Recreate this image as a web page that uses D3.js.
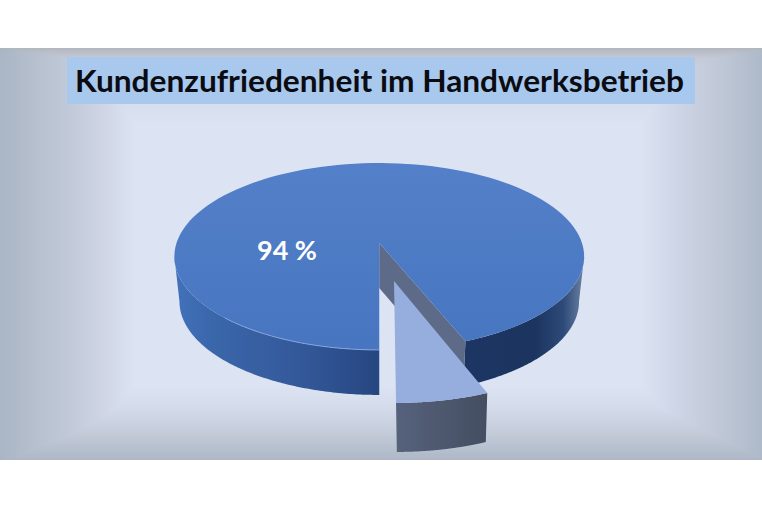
<!DOCTYPE html>
<html>
<head>
<meta charset="utf-8">
<script src="https://cdn.jsdelivr.net/npm/d3@7"></script>
<style>
  html, body { margin: 0; padding: 0; background: #fff; }
  svg { display: block; }
</style>
</head>
<body>
<svg id="chart"></svg>
<script>
const chartTitle = "Kundenzufriedenheit im Handwerksbetrieb";
const categories = ["zufrieden", "nicht zufrieden"];
const shares = [94, 6];
const shareLabels = ["94 %"];

const width = 762, height = 508;

const svg = d3.select("#chart").attr("width", width).attr("height", height);
const defs = svg.append("defs");

function gradient(id, stops, x1, y1, x2, y2) {
  const g = defs.append("linearGradient").attr("id", id)
    .attr("gradientUnits", "userSpaceOnUse")
    .attr("x1", x1).attr("y1", y1).attr("x2", x2).attr("y2", y2);
  stops.forEach(s => g.append("stop").attr("offset", s[0]).attr("stop-color", s[1]));
}

// background: pale centre, darker towards the edges, bands blended with darken so corners stay soft
const top0 = 48, bot0 = 460, inL = 135, inR = 640, inT = 125, inB = 385;
gradient("fadeLeft", [[0, "#aab5c5"], [0.45, "#bec7d5"], [0.75, "#ced4e4"], [1, "#dce4f4"]], 0, 0, inL, 0);
gradient("fadeRight", [[0, "#dce4f4"], [0.3, "#ced5e6"], [0.65, "#c0c8d7"], [1, "#aeb9c9"]], inR, 0, width, 0);
gradient("fadeTop", [[0, "#b2b6be"], [0.14, "#c6cbd7"], [0.6, "#d4dbea"], [1, "#dce4f4"]], 0, top0, 0, inT);
gradient("fadeBottom", [[0, "#dce4f4"], [0.3, "#d4dbeb"], [0.65, "#c3cbd9"], [1, "#adb7c6"]], 0, inB, 0, bot0);

gradient("sideMain", [[0, "#4272bb"], [0.1, "#3a66aa"], [0.3, "#34599b"], [0.5, "#264680"], [0.7, "#1d3562"], [0.88, "#1c3460"], [0.95, "#2e4a78"], [1, "#6a82a4"]], 174, 0, 584, 0);
gradient("topMain", [[0, "#5380c8"], [1, "#4775c0"]], 0, 163, 0, 350);
gradient("sideSlice", [[0, "#56627c"], [1, "#434c5f"]], 380, 0, 470, 0);

const bg = svg.append("g").style("isolation", "isolate");
bg.append("rect").attr("y", top0).attr("width", width).attr("height", bot0 - top0).attr("fill", "#dce4f4");
const band = (x, y, w, h, fill) => bg.append("rect")
  .attr("x", x).attr("y", y).attr("width", w).attr("height", h)
  .attr("fill", fill).style("mix-blend-mode", "darken");
band(0, top0, inL, bot0 - top0, "url(#fadeLeft)");
band(inR, top0, width - inR, bot0 - top0, "url(#fadeRight)");
band(0, top0, width, inT - top0, "url(#fadeTop)");
band(0, inB, width, bot0 - inB, "url(#fadeBottom)");

// title box
svg.append("rect").attr("x", 67).attr("y", 57).attr("width", 628).attr("height", 47).attr("fill", "#a9c8ee");
svg.append("text").attr("x", 75).attr("y", 92)
  .attr("font-family", "Lato, sans-serif").attr("font-weight", 700).attr("font-size", 31)
  .attr("textLength", 609).attr("lengthAdjust", "spacingAndGlyphs")
  .attr("fill", "#0a0c12").text(chartTitle);

// pie: unit circle seen in perspective, near edge (angle pi) is larger
const persp = 0.1444;
const px = d3.scaleLinear().domain([-1, 1]).range([176.5, 582]);
const py = d3.scaleLinear().domain([-1, 1]).range([151.5, 334.5]);
const project = a => {
  const w = 1 + persp * Math.cos(a);
  return [px(Math.sin(a) / w), py(-Math.cos(a) / w)];
};
const hub = [px(0), py(0)];
const depth = 45, inset = 0.975;
const lower = (p, h) => [hub[0] + (p[0] - hub[0]) * inset, p[1] + h];

const arcs = d3.pie().sort(null).startAngle(Math.PI).endAngle(3 * Math.PI)(shares);
const rim = (a0, a1) => d3.range(0, 121).map(i => project(a0 + (a1 - a0) * i / 120));
const line = d3.line();
const topPath = (a0, a1) => line([hub, ...rim(a0, a1)]) + "Z";
const sidePath = (a0, a1, h) => {
  const r = rim(a0, a1);
  return line([...r, ...r.slice().reverse().map(p => lower(p, h))]) + "Z";
};

const main = arcs[0], slice = arcs[1];
const widest = Math.acos(-persp);
const mainG = svg.append("g");
const cut = project(main.endAngle);

// visible front rim of the big slice, each side of the gap
mainG.append("path").attr("d", sidePath(main.startAngle, 2 * Math.PI - widest, depth)).attr("fill", "url(#sideMain)");
mainG.append("path").attr("d", sidePath(main.endAngle - 2 * Math.PI, widest, depth)).attr("fill", "url(#sideMain)");
// inner cut wall
mainG.append("path")
  .attr("d", line([hub, cut, lower(cut, depth), [hub[0], hub[1] + depth]]) + "Z")
  .attr("fill", "#5d6b88");
mainG.append("path").attr("d", topPath(main.startAngle, main.endAngle)).attr("fill", "url(#topMain)");
// light catch along the front left edge
mainG.append("path").attr("d", line(rim(main.startAngle, main.startAngle + 0.75)))
  .attr("fill", "none").attr("stroke", "#86a6e0").attr("stroke-width", 1);

// pulled out slice
const pull = [1.06, 0, 0.019, 1.14];
const sliceG = svg.append("g")
  .attr("transform", `translate(394,281) matrix(${pull.join(" ")} 0 0) translate(${-hub[0]},${-hub[1]})`);
sliceG.append("path").attr("d", sidePath(slice.startAngle - 2 * Math.PI, slice.endAngle - 2 * Math.PI, 43))
  .attr("fill", "url(#sideSlice)");
sliceG.append("path").attr("d", topPath(slice.startAngle, slice.endAngle)).attr("fill", "#95aedd");

svg.append("text").attr("x", 287).attr("y", 260).attr("text-anchor", "middle")
  .attr("font-family", "Lato, sans-serif").attr("font-weight", 700).attr("font-size", 27)
  .attr("fill", "#fff").text(shareLabels[0]);
</script>
</body>
</html>
